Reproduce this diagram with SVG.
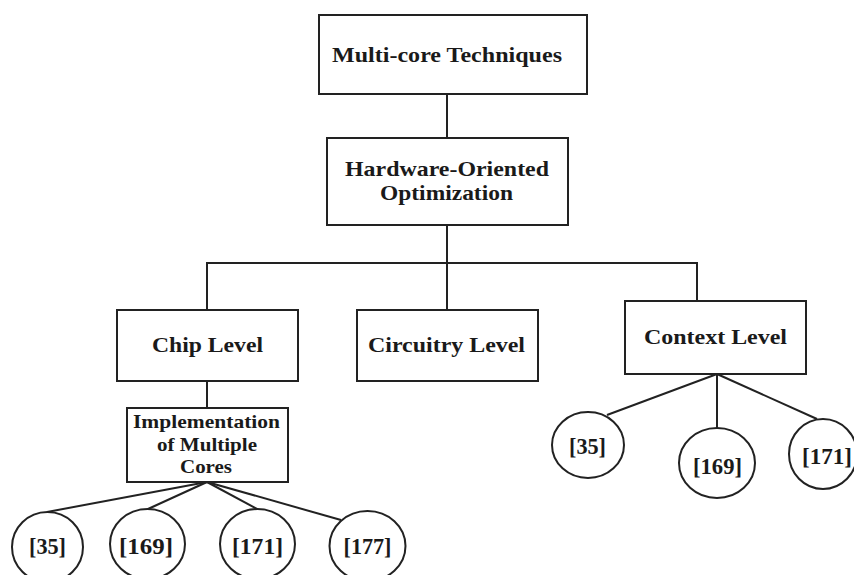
<svg xmlns="http://www.w3.org/2000/svg" width="854" height="575" viewBox="0 0 854 575">
  <style>
    .box { fill: #ffffff; stroke: #222222; stroke-width: 2; }
    .ref { fill: #ffffff; stroke: #222222; stroke-width: 2; }
    .wire { fill: none; stroke: #222222; stroke-width: 2; }
    text { font-family: "Liberation Serif", "Times New Roman", serif; font-weight: bold; fill: #1a1a1a; text-anchor: middle; }
    .t { font-size: 22px; }
    .s { font-size: 19px; }
    .r { font-size: 23px; }
  </style>
  <rect width="854" height="575" fill="#ffffff"/>

  <!-- connectors -->
  <g id="connectors">
    <line class="wire" x1="447" y1="94" x2="447" y2="138"/>
    <polyline class="wire" points="447,225 447,263"/>
    <polyline class="wire" points="207,310 207,263 697,263 697,301"/>
    <line class="wire" x1="447" y1="263" x2="447" y2="310"/>
    <line class="wire" x1="207" y1="381" x2="207" y2="408"/>
    <!-- implementation to references -->
    <line class="wire" x1="207" y1="482" x2="47" y2="512"/>
    <line class="wire" x1="207" y1="482" x2="148" y2="509"/>
    <line class="wire" x1="207" y1="482" x2="257" y2="509"/>
    <line class="wire" x1="207" y1="482" x2="341" y2="520"/>
    <!-- context level to references -->
    <line class="wire" x1="717" y1="374" x2="607" y2="415"/>
    <line class="wire" x1="717" y1="374" x2="717" y2="428"/>
    <line class="wire" x1="717" y1="374" x2="817" y2="419"/>
  </g>

  <g id="multicore">
    <rect class="box" x="319" y="15" width="268" height="79"/>
    <text class="t" x="447" y="62" textLength="230" lengthAdjust="spacingAndGlyphs">Multi-core Techniques</text>
  </g>

  <g id="hardware">
    <rect class="box" x="327" y="138" width="241" height="87"/>
    <text class="t" x="447" y="176" textLength="204" lengthAdjust="spacingAndGlyphs">Hardware-Oriented</text>
    <text class="t" x="446.5" y="200" textLength="133" lengthAdjust="spacingAndGlyphs">Optimization</text>
  </g>

  <g id="chip">
    <rect class="box" x="117" y="310" width="181" height="71"/>
    <text class="t" x="207.5" y="352" textLength="111" lengthAdjust="spacingAndGlyphs">Chip Level</text>
  </g>

  <g id="circuitry">
    <rect class="box" x="357" y="310" width="181" height="71"/>
    <text class="t" x="446.5" y="352" textLength="157" lengthAdjust="spacingAndGlyphs">Circuitry Level</text>
  </g>

  <g id="context">
    <rect class="box" x="625" y="301" width="181" height="73"/>
    <text class="t" x="715.5" y="344" textLength="143" lengthAdjust="spacingAndGlyphs">Context Level</text>
  </g>

  <g id="implementation">
    <rect class="box" x="127" y="408" width="161" height="74"/>
    <text class="s" x="206.5" y="428" textLength="147" lengthAdjust="spacingAndGlyphs">Implementation</text>
    <text class="s" x="207" y="451" textLength="100" lengthAdjust="spacingAndGlyphs">of Multiple</text>
    <text class="s" x="206" y="473" textLength="52" lengthAdjust="spacingAndGlyphs">Cores</text>
  </g>

  <!-- references under Implementation of Multiple Cores -->
  <g id="ref-impl-35">
    <ellipse class="ref" cx="47.5" cy="547" rx="35.5" ry="35"/>
    <text class="r" x="47.5" y="554" textLength="37" lengthAdjust="spacingAndGlyphs">[35]</text>
  </g>
  <g id="ref-impl-169">
    <ellipse class="ref" cx="147.5" cy="544" rx="37.5" ry="35"/>
    <text class="r" x="146" y="554" textLength="54" lengthAdjust="spacingAndGlyphs">[169]</text>
  </g>
  <g id="ref-impl-171">
    <ellipse class="ref" cx="257.5" cy="544" rx="37.5" ry="35"/>
    <text class="r" x="257.5" y="554" textLength="51" lengthAdjust="spacingAndGlyphs">[171]</text>
  </g>
  <g id="ref-impl-177">
    <ellipse class="ref" cx="367.5" cy="546" rx="38" ry="35"/>
    <text class="r" x="367.5" y="554" textLength="48" lengthAdjust="spacingAndGlyphs">[177]</text>
  </g>

  <!-- references under Context Level -->
  <g id="ref-ctx-35">
    <ellipse class="ref" cx="588" cy="445" rx="36" ry="33"/>
    <text class="r" x="587.5" y="454" textLength="37" lengthAdjust="spacingAndGlyphs">[35]</text>
  </g>
  <g id="ref-ctx-169">
    <ellipse class="ref" cx="717" cy="463" rx="38" ry="35"/>
    <text class="r" x="717.5" y="474" textLength="49" lengthAdjust="spacingAndGlyphs">[169]</text>
  </g>
  <g id="ref-ctx-171">
    <ellipse class="ref" cx="823" cy="454" rx="34" ry="35"/>
    <text class="r" x="827" y="464" textLength="50" lengthAdjust="spacingAndGlyphs">[171]</text>
  </g>
</svg>
